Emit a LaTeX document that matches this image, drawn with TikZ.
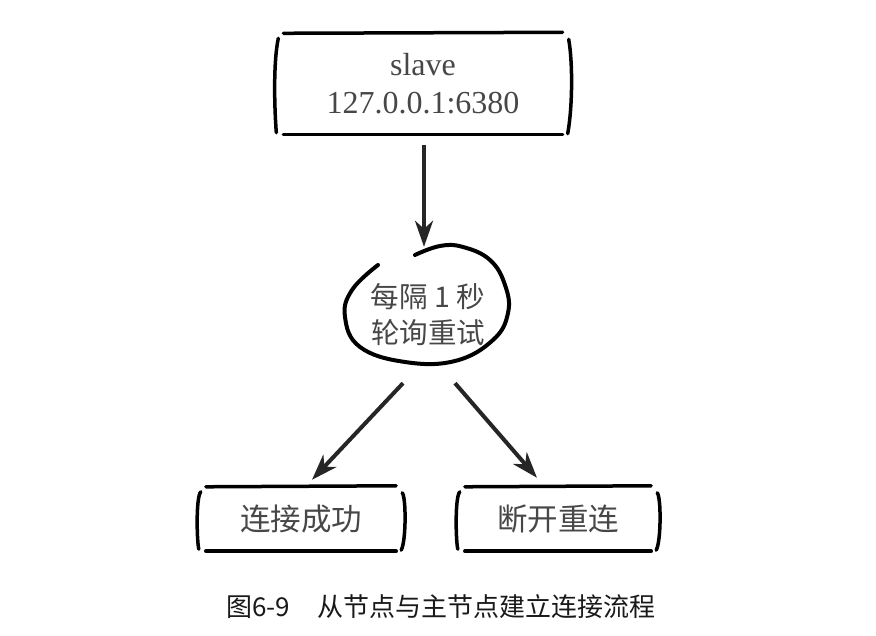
\documentclass[tikz,border=0pt]{standalone}
\usepackage{fontspec}
\setmainfont{Liberation Serif}
\newfontfamily\cjk{Noto Sans CJK SC}
\usetikzlibrary{calc,arrows.meta,shapes.geometric}

\tikzset{
  sketch/.style={black,line width=3.5pt,line cap=round},
  arr/.style={color=black!85,line width=4pt,-{Stealth[length=26pt,width=18pt,inset=8pt]}},
  sbox/.style={rectangle,inner sep=0pt,align=center,text=black!72},
}

% hand drawn box round a node: two bars and two brackets
\newcommand\sketchbox[1]{%
  \draw[sketch] ($(#1.north west)+(7,0)$) -- ($(#1.north east)+(-7,1)$);
  \draw[sketch] ($(#1.south west)+(7,0)$) -- ($(#1.south east)+(-7,0)$);
  \draw[sketch] ($(#1.north west)+(2,-5)$) .. controls ($(#1.west)+(-3,22)$) and ($(#1.west)+(-2,-22)$) .. ($(#1.south west)+(0,2)$);
  \draw[sketch] ($(#1.north east)+(-1,-6)$) .. controls ($(#1.east)+(3,22)$) and ($(#1.east)+(3,-22)$) .. ($(#1.south east)+(-2,1)$);
}

\begin{document}
\begin{tikzpicture}[x=1pt,y=1pt]
\useasboundingbox (0,0) rectangle (876,636);
% boxes
\node[sbox,minimum width=293,minimum height=101,font=\fontsize{32}{38}\selectfont] (slave) at (423,552) {slave\\127.0.0.1:6380};
\node[sbox,minimum width=204,minimum height=64,font=\cjk\fontsize{30.5}{34}\selectfont] (ok) at (301,117) {连接成功};
\node[sbox,minimum width=200,minimum height=64,font=\cjk\fontsize{30.5}{34}\selectfont] (retry) at (558,117) {断开重连};
\sketchbox{slave}
\sketchbox{ok}
\sketchbox{retry}
% polling bubble
\node[ellipse,inner sep=0pt,minimum width=164,minimum height=120,align=center,text=black!72,font=\cjk\fontsize{28.5}{36}\selectfont] (poll) at (428,321) {每隔 1 秒\\轮询重试};
\draw[sketch,line width=4pt,shift={(poll.center)}] plot[smooth,tension=0.7] coordinates {
  (-13,60) (12,69) (35,68) (62,55) (77,30) (80,2) (65,-25) (27,-46)
  (-23,-47) (-68,-32) (-83,-2) (-76,25) (-50,50)};
% arrows
\draw[arr] ($(slave.south)+(1,-10)$) -- ($(poll.north)+(-4,8)$);
\draw[arr] ($(poll.south)+(-25,-8)$) -- ($(ok.north)+(11,7)$);
\draw[arr] ($(poll.south)+(27,-8)$) -- ($(retry.north)+(-21,9)$);
% caption
\node[font=\cjk\fontsize{26}{30}\selectfont,text=black!90] (cap) at (441,29) {图6-9\hspace{28pt}从节点与主节点建立连接流程};
\end{tikzpicture}
\end{document}
